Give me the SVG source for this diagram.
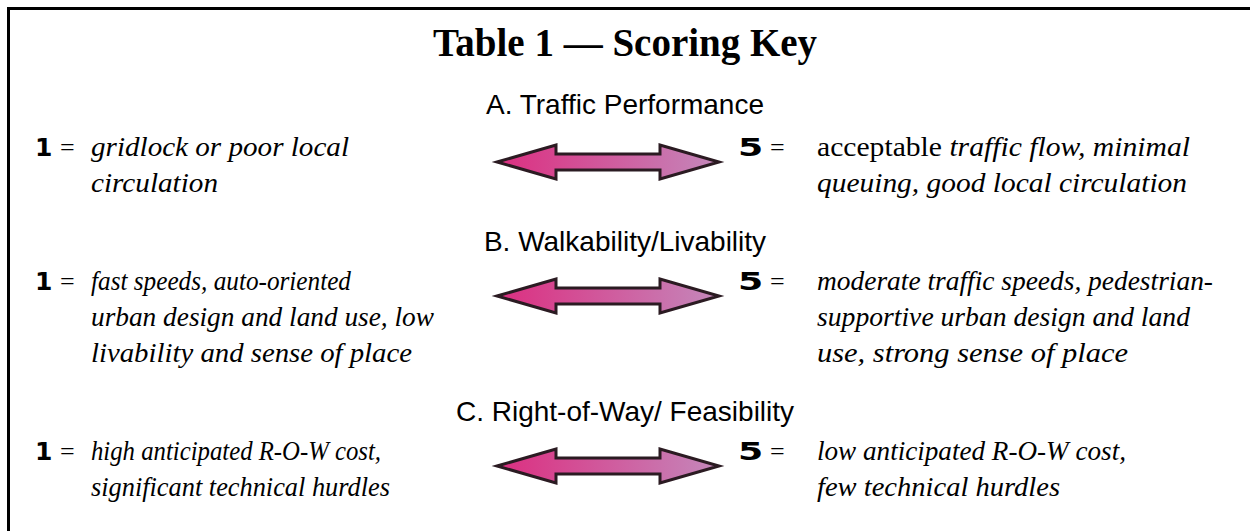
<svg xmlns="http://www.w3.org/2000/svg" width="1250" height="531" viewBox="0 0 1250 531">
<style>
.title{font-family:"Liberation Serif","DejaVu Serif",serif;font-weight:bold;font-size:39px;fill:#000}
.head{font-family:"Liberation Sans",Arial,sans-serif;font-size:28px;fill:#000}
.num{font-family:"DejaVu Sans",sans-serif;font-weight:bold;font-size:25px;fill:#000}
.eq{font-family:"Liberation Serif",serif;font-size:26px;fill:#000}
.desc{font-family:"Liberation Serif",serif;font-style:italic;font-size:28px;fill:#000}
.up{font-style:normal}
.arrow{fill:url(#grad);stroke:#2b1b22;stroke-width:3;stroke-linejoin:miter}
</style>
<defs>
<linearGradient id="grad" x1="0" y1="0" x2="1" y2="0">
<stop offset="0" stop-color="#dc2e80"/>
<stop offset="1" stop-color="#c488bb"/>
</linearGradient>
<path id="dbl" d="M0,0 L59,-17 L59,-8 L163,-8 L163,-17 L222,0 L163,17 L163,8 L59,8 L59,17 Z"/>
</defs>
<rect width="1250" height="531" fill="#fff"/>
<g id="frame"><path d="M8.5,531 L8.5,8.5 L1250,8.5" fill="none" stroke="#000" stroke-width="3"/></g>
<g id="title"><text class="title" x="625" y="56" text-anchor="middle">Table 1 — Scoring Key</text></g>

<g id="sectionA">
<text class="head" x="625" y="114" text-anchor="middle">A. Traffic Performance</text>
<text class="num" x="35" y="156">1</text><text class="eq" x="60" y="156">=</text>
<text class="desc" x="91" y="156" textLength="258" lengthAdjust="spacingAndGlyphs">gridlock or poor local</text>
<text class="desc" x="91" y="192" textLength="127" lengthAdjust="spacingAndGlyphs">circulation</text>
<text class="num" transform="translate(738,156) scale(1.45,1)">5</text><text class="eq" x="770" y="156">=</text>
<text class="desc" x="817" y="156" textLength="373" lengthAdjust="spacingAndGlyphs"><tspan class="up">acceptable</tspan> traffic flow, minimal</text>
<text class="desc" x="817" y="192" textLength="370" lengthAdjust="spacingAndGlyphs">queuing, good local circulation</text>
</g>

<g id="sectionB">
<text class="head" x="625" y="251" text-anchor="middle">B.  Walkability/Livability</text>
<text class="num" x="35" y="290">1</text><text class="eq" x="60" y="290">=</text>
<text class="desc" x="91" y="290" textLength="260" lengthAdjust="spacingAndGlyphs">fast speeds, auto-oriented</text>
<text class="desc" x="91" y="326" textLength="343" lengthAdjust="spacingAndGlyphs">urban design and land use, low</text>
<text class="desc" x="91" y="362" textLength="321" lengthAdjust="spacingAndGlyphs">livability and sense of place</text>
<text class="num" transform="translate(738,290) scale(1.45,1)">5</text><text class="eq" x="770" y="290">=</text>
<text class="desc" x="817" y="290" textLength="396" lengthAdjust="spacingAndGlyphs">moderate traffic speeds, pedestrian-</text>
<text class="desc" x="817" y="326" textLength="373" lengthAdjust="spacingAndGlyphs">supportive urban design and land</text>
<text class="desc" x="817" y="362" textLength="311" lengthAdjust="spacingAndGlyphs">use, strong sense of place</text>
</g>

<g id="sectionC">
<text class="head" x="625" y="421" text-anchor="middle">C. Right-of-Way/ Feasibility</text>
<text class="num" x="35" y="460">1</text><text class="eq" x="60" y="460">=</text>
<text class="desc" x="91" y="460" textLength="290" lengthAdjust="spacingAndGlyphs">high anticipated R-O-W cost,</text>
<text class="desc" x="91" y="496" textLength="299" lengthAdjust="spacingAndGlyphs">significant technical hurdles</text>
<text class="num" transform="translate(738,460) scale(1.45,1)">5</text><text class="eq" x="770" y="460">=</text>
<text class="desc" x="817" y="460" textLength="309" lengthAdjust="spacingAndGlyphs">low anticipated R-O-W cost,</text>
<text class="desc" x="817" y="496" textLength="243" lengthAdjust="spacingAndGlyphs">few technical hurdles</text>
</g>

<g id="connectors">
<use href="#dbl" class="arrow" x="497" y="162"/>
<use href="#dbl" class="arrow" x="497" y="296"/>
<use href="#dbl" class="arrow" x="497" y="466"/>
</g>
</svg>
